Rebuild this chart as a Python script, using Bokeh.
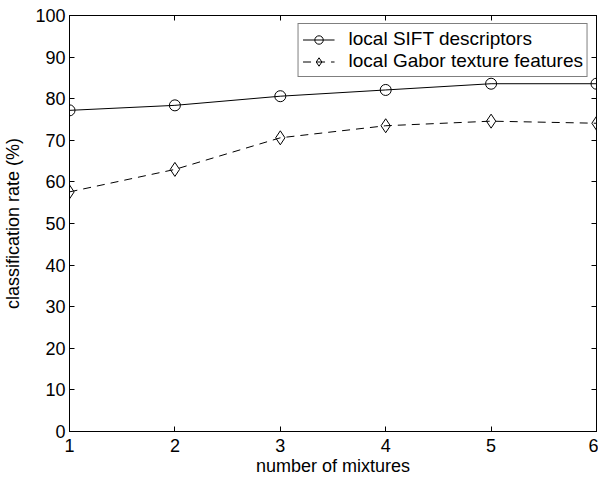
from bokeh.plotting import figure
from bokeh.models import LinearAxis, Range1d, FixedTicker, Legend, LegendItem
from bokeh.embed import file_html
from bokeh.resources import INLINE

mixtures = [1, 2, 3, 4, 5, 6]
sift = [77.2, 78.4, 80.6, 82.1, 83.6, 83.6]
gabor = [57.6, 63.0, 70.6, 73.5, 74.6, 74.1]
x_ticks = [1, 2, 3, 4, 5, 6]
y_ticks = [0, 10, 20, 30, 40, 50, 60, 70, 80, 90, 100]

FONT = "Liberation Sans"

p = figure(width=598, height=478, output_backend="svg", toolbar_location=None,
           x_range=Range1d(1, 6), y_range=Range1d(0, 100),
           min_border_left=68, min_border_right=2, min_border_top=15, min_border_bottom=46,
           x_axis_label="number of mixtures", y_axis_label="classification rate (%)")
p.grid.visible = False
p.outline_line_color = "black"
p.outline_line_width = 1
p.background_fill_color = "white"
p.border_fill_color = "white"

for ax in p.xaxis + p.yaxis:
    ax.axis_line_color = "black"
    ax.major_tick_in = 5
    ax.major_tick_out = 0
    ax.minor_tick_line_color = None
    ax.major_label_text_font = FONT
    ax.major_label_text_font_size = "18px"
    ax.major_label_text_color = "black"
    ax.axis_label_text_font = FONT
    ax.axis_label_text_font_size = "18px"
    ax.axis_label_text_font_style = "normal"
    ax.axis_label_text_color = "black"
p.xaxis.major_label_standoff = 7
p.xaxis.axis_label_standoff = 1
p.yaxis.major_label_standoff = 4
p.yaxis.axis_label_standoff = 9
p.xaxis.ticker = FixedTicker(ticks=x_ticks)
p.yaxis.ticker = FixedTicker(ticks=y_ticks)

top = LinearAxis(ticker=FixedTicker(ticks=x_ticks),
                 major_label_overrides={t: "" for t in x_ticks},
                 major_tick_in=5, major_tick_out=0, minor_tick_line_color=None,
                 major_label_standoff=0, axis_line_color="black")
right = LinearAxis(ticker=FixedTicker(ticks=y_ticks),
                   major_label_overrides={t: "" for t in y_ticks},
                   major_tick_in=5, major_tick_out=0, minor_tick_line_color=None,
                   major_label_standoff=0, axis_line_color="black")
p.add_layout(top, "above")
p.add_layout(right, "right")

l1 = p.line(mixtures, sift, line_color="black", line_width=1)
m1 = p.scatter(mixtures, sift, marker="circle", size=11, line_color="black",
               fill_alpha=0, line_width=1)
l2 = p.line(mixtures, gabor, line_color="black", line_width=1, line_dash="8 6")
m2 = p.scatter(mixtures, gabor, marker="diamond", size=14, line_color="black",
               fill_alpha=0, line_width=1)

legend = Legend(items=[
    LegendItem(label="local SIFT descriptors", renderers=[l1, m1]),
    LegendItem(label="local Gabor texture features", renderers=[l2, m2]),
], location="top_right")
legend.border_line_color = "black"
legend.border_line_width = 1
legend.label_text_font = FONT
legend.label_text_font_size = "19px"
legend.label_text_color = "black"
legend.glyph_width = 32
legend.glyph_height = 21
legend.label_height = 21
legend.spacing = 0
legend.padding = 4
legend.margin = 8
legend.label_standoff = 14
legend.background_fill_alpha = 1
p.add_layout(legend)

open("out.html", "w").write(file_html(p, INLINE))
